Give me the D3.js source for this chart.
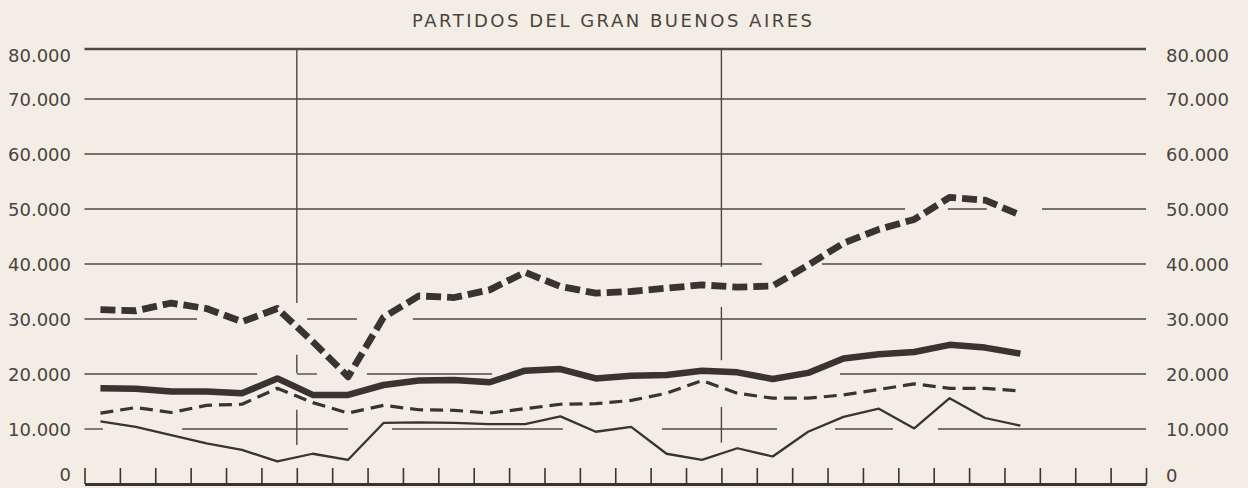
<!DOCTYPE html>
<html>
<head>
<meta charset="utf-8">
<script src="https://cdn.jsdelivr.net/npm/d3@7"></script>
<style>
html,body{margin:0;padding:0;background:#f4ede5;}
svg{display:block;}
</style>
</head>
<body>
<svg id="c" width="1248" height="488"></svg>
<script>
// ---- DATA ----
const titulo = "PARTIDOS DEL GRAN BUENOS AIRES";
const periodos = [0,1,2,3,4,5,6,7,8,9,10,11,12,13,14,15,16,17,18,19,20,21,22,23,24,25,26];
const marcasX = [0,1,2,3,4,5,6,7,8,9,10,11,12,13,14,15,16,17,18,19,20,21,22,23,24,25,26,27,28,29,30];
const divisiones = [6, 18];

const serieGruesaPunteada = [31700,31500,32900,31900,29500,31900,25900,19500,30300,34200,33900,35300,38500,35900,34700,35000,35600,36200,35800,36000,39800,43800,46300,48100,52100,51600,48900];
const serieGruesaContinua = [17400,17300,16800,16800,16500,19200,16200,16200,18000,18800,18900,18500,20600,20900,19200,19700,19800,20600,20300,19100,20200,22800,23600,24000,25300,24800,23700];
const serieFinaPunteada   = [12900,13900,13000,14300,14500,17400,14800,12900,14300,13500,13400,12900,13700,14500,14600,15200,16500,18800,16500,15600,15600,16200,17200,18200,17400,17400,16900];
const serieFinaContinua   = [11400,10400,8900,7400,6200,4100,5500,4400,11100,11200,11100,10900,10900,12300,9500,10400,5500,4400,6500,5000,9500,12200,13700,10100,15600,12000,10600];

const valoresY = [0,10000,20000,30000,40000,50000,60000,70000,80000];
const etiquetasY = ["0","10.000","20.000","30.000","40.000","50.000","60.000","70.000","80.000"];

// visible stretches of each horizontal rule (in period units), as printed
const tramosGrilla = [
  null,
  [[0,0.52],[2.76,7.45],[8.69,13.52],[16.32,19.57],[21.21,22.85],[24.12,30]],
  [[0,4.88],[6.0,6.57],[7.98,11.52],[21.35,30]],
  [[0,3.18],[6.29,7.7],[9.28,30]],
  [[0,19.15],[20.84,30]],
  [[0,23.19],[24.4,25.5],[27.06,30]],
  [[0,30]],
  [[0,30]],
  [[0,30]]
];
// visible stretches of the two vertical rules (in value units)
const tramosDivision = [
  [[7100,13500],[20200,23500],[32900,80000]],
  [[7500,14000],[22500,32200],[39500,80000]]
];

// ---- CHART ----
const W = 1248, H = 488;
const ink = "#3a3330", gridInk = "#4f4845", textInk = "#4a4440";
const svg = d3.select("#c");
svg.append("rect").attr("width", W).attr("height", H).attr("fill", "#f4ede5");

const x = d3.scaleLinear().domain([0, 30]).range([84.5, 1146]);
// printed scale: top band (70.000–80.000) is slightly narrower than the rest
const y = d3.scaleLinear().domain([0, 70000, 80000]).range([484, 99, 49]);

// title
svg.append("text")
  .attr("x", 612).attr("y", 27)
  .attr("text-anchor", "middle")
  .attr("font-family", "DejaVu Sans, sans-serif")
  .attr("font-size", 18)
  .attr("fill", textInk)
  .attr("textLength", 400).attr("lengthAdjust", "spacing")
  .text(titulo);

// horizontal rules
const gGrid = svg.append("g");
valoresY.forEach((v, k) => {
  const tramos = tramosGrilla[k];
  if (!tramos) return;
  tramos.forEach(t => {
    gGrid.append("line")
      .attr("x1", x(t[0])).attr("x2", x(t[1]))
      .attr("y1", y(v)).attr("y2", y(v))
      .attr("stroke", gridInk)
      .attr("stroke-width", v === 80000 ? 2.6 : 1.4);
  });
});

// vertical rules
divisiones.forEach((d, k) => {
  tramosDivision[k].forEach(t => {
    gGrid.append("line")
      .attr("x1", x(d)).attr("x2", x(d))
      .attr("y1", y(t[0])).attr("y2", y(t[1]))
      .attr("stroke", gridInk).attr("stroke-width", 1.4);
  });
});

// bottom axis with upward ticks
const axB = svg.append("g").attr("transform", `translate(0,${y(0)})`)
  .call(d3.axisTop(x).tickValues(marcasX).tickSize(16).tickSizeOuter(0).tickFormat(""));
axB.select(".domain").attr("stroke", ink).attr("stroke-width", 3);
axB.selectAll(".tick line").attr("stroke", ink).attr("stroke-width", 1.6);

// left labels
const axL = svg.append("g").attr("transform", "translate(71,0)")
  .call(d3.axisLeft(y).tickValues(valoresY).tickSize(0).tickPadding(0)
    .tickFormat((d, i) => etiquetasY[i]));
axL.select(".domain").remove();
axL.selectAll("text")
  .attr("font-family", "DejaVu Sans, sans-serif").attr("font-size", 18)
  .attr("fill", textInk)
  .attr("dy", d => d === 80000 ? "0.72em" : d === 0 ? "-0.22em" : "0.35em");

// right labels
const axR = svg.append("g").attr("transform", "translate(1166,0)")
  .call(d3.axisRight(y).tickValues(valoresY).tickSize(0).tickPadding(0)
    .tickFormat((d, i) => etiquetasY[i]));
axR.select(".domain").remove();
axR.selectAll("text")
  .attr("font-family", "DejaVu Sans, sans-serif").attr("font-size", 18)
  .attr("fill", textInk)
  .attr("dy", d => d === 80000 ? "0.72em" : d === 0 ? "-0.15em" : "0.35em");

// series
const linea = d3.line()
  .x((d, i) => x(periodos[i] + 0.45))
  .y(d => y(d));

const estilos = [
  {data: serieFinaContinua, w: 2.3, dash: null},
  {data: serieFinaPunteada, w: 3.2, dash: "13,7"},
  {data: serieGruesaContinua, w: 6.5, dash: null},
  {data: serieGruesaPunteada, w: 6.8, dash: "15,6"}
];
estilos.forEach(s => {
  svg.append("path")
    .attr("d", linea(s.data))
    .attr("fill", "none")
    .attr("stroke", ink)
    .attr("stroke-width", s.w)
    .attr("stroke-linejoin", "round")
    .attr("stroke-dasharray", s.dash);
});
</script>
</body>
</html>
